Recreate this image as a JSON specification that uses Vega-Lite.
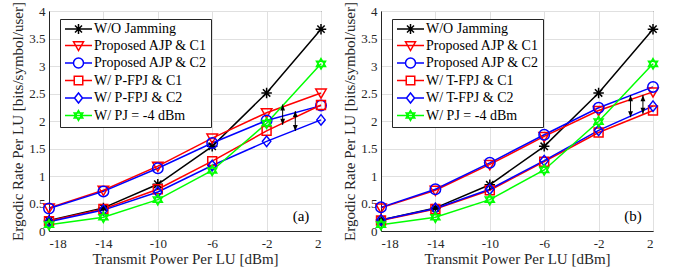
{
  "$schema": "https://vega.github.io/schema/vega-lite/v6.json",
  "background": "white",
  "padding": {"left": 10, "top": 1, "right": 5, "bottom": 0},
  "spacing": 12,
  "config": {
    "font": "Liberation Serif",
    "view": {"stroke": "#262626", "strokeWidth": 1},
    "axis": {
      "labelFont": "Liberation Serif", "labelFontSize": 13, "labelColor": "#262626",
      "titleFont": "Liberation Serif", "titleFontSize": 15, "titleFontWeight": "normal", "titleColor": "#262626",
      "domainColor": "#262626", "gridColor": "#e0e0e0", "ticks": false, "labelOverlap": false
    },
    "axisX": {"labelPadding": 6, "titlePadding": 1},
    "axisY": {"labelPadding": 4, "titlePadding": 3},
    "legend": {
      "orient": "none", "legendX": 11, "legendY": 8,
      "strokeColor": "#262626", "fillColor": "white", "padding": 3,
      "labelFont": "Liberation Serif", "labelFontSize": 14, "labelColor": "black",
      "symbolSize": 100, "symbolStrokeWidth": 1.5, "labelOffset": 17, "rowPadding": 1.5
    }
  },
  "datasets": {
    "a": [
      {"p": -18, "r": 0.19, "s": "W/O Jamming"}, {"p": -14, "r": 0.42, "s": "W/O Jamming"}, {"p": -10, "r": 0.85, "s": "W/O Jamming"}, {"p": -6, "r": 1.54, "s": "W/O Jamming"}, {"p": -2, "r": 2.51, "s": "W/O Jamming"}, {"p": 2, "r": 3.67, "s": "W/O Jamming"},
      {"p": -18, "r": 0.42, "s": "Proposed AJP & C1"}, {"p": -14, "r": 0.74, "s": "Proposed AJP & C1"}, {"p": -10, "r": 1.18, "s": "Proposed AJP & C1"}, {"p": -6, "r": 1.69, "s": "Proposed AJP & C1"}, {"p": -2, "r": 2.15, "s": "Proposed AJP & C1"}, {"p": 2, "r": 2.51, "s": "Proposed AJP & C1"},
      {"p": -18, "r": 0.41, "s": "Proposed AJP & C2"}, {"p": -14, "r": 0.72, "s": "Proposed AJP & C2"}, {"p": -10, "r": 1.14, "s": "Proposed AJP & C2"}, {"p": -6, "r": 1.6, "s": "Proposed AJP & C2"}, {"p": -2, "r": 2.01, "s": "Proposed AJP & C2"}, {"p": 2, "r": 2.28, "s": "Proposed AJP & C2"},
      {"p": -18, "r": 0.18, "s": "W/ P-FPJ & C1"}, {"p": -14, "r": 0.4, "s": "W/ P-FPJ & C1"}, {"p": -10, "r": 0.76, "s": "W/ P-FPJ & C1"}, {"p": -6, "r": 1.27, "s": "W/ P-FPJ & C1"}, {"p": -2, "r": 1.82, "s": "W/ P-FPJ & C1"}, {"p": 2, "r": 2.29, "s": "W/ P-FPJ & C1"},
      {"p": -18, "r": 0.17, "s": "W/ P-FPJ & C2"}, {"p": -14, "r": 0.38, "s": "W/ P-FPJ & C2"}, {"p": -10, "r": 0.71, "s": "W/ P-FPJ & C2"}, {"p": -6, "r": 1.19, "s": "W/ P-FPJ & C2"}, {"p": -2, "r": 1.63, "s": "W/ P-FPJ & C2"}, {"p": 2, "r": 2.02, "s": "W/ P-FPJ & C2"},
      {"p": -18, "r": 0.115, "s": "W/  PJ = -4 dBm"}, {"p": -14, "r": 0.25, "s": "W/  PJ = -4 dBm"}, {"p": -10, "r": 0.57, "s": "W/  PJ = -4 dBm"}, {"p": -6, "r": 1.1, "s": "W/  PJ = -4 dBm"}, {"p": -2, "r": 1.96, "s": "W/  PJ = -4 dBm"}, {"p": 2, "r": 3.04, "s": "W/  PJ = -4 dBm"}
    ],
    "b": [
      {"p": -18, "r": 0.2, "s": "W/O Jamming"}, {"p": -14, "r": 0.42, "s": "W/O Jamming"}, {"p": -10, "r": 0.84, "s": "W/O Jamming"}, {"p": -6, "r": 1.54, "s": "W/O Jamming"}, {"p": -2, "r": 2.51, "s": "W/O Jamming"}, {"p": 2, "r": 3.67, "s": "W/O Jamming"},
      {"p": -18, "r": 0.42, "s": "Proposed AJP & C1"}, {"p": -14, "r": 0.74, "s": "Proposed AJP & C1"}, {"p": -10, "r": 1.21, "s": "Proposed AJP & C1"}, {"p": -6, "r": 1.72, "s": "Proposed AJP & C1"}, {"p": -2, "r": 2.19, "s": "Proposed AJP & C1"}, {"p": 2, "r": 2.53, "s": "Proposed AJP & C1"},
      {"p": -18, "r": 0.43, "s": "Proposed AJP & C2"}, {"p": -14, "r": 0.76, "s": "Proposed AJP & C2"}, {"p": -10, "r": 1.24, "s": "Proposed AJP & C2"}, {"p": -6, "r": 1.75, "s": "Proposed AJP & C2"}, {"p": -2, "r": 2.24, "s": "Proposed AJP & C2"}, {"p": 2, "r": 2.62, "s": "Proposed AJP & C2"},
      {"p": -18, "r": 0.19, "s": "W/ T-FPJ & C1"}, {"p": -14, "r": 0.4, "s": "W/ T-FPJ & C1"}, {"p": -10, "r": 0.74, "s": "W/ T-FPJ & C1"}, {"p": -6, "r": 1.26, "s": "W/ T-FPJ & C1"}, {"p": -2, "r": 1.79, "s": "W/ T-FPJ & C1"}, {"p": 2, "r": 2.19, "s": "W/ T-FPJ & C1"},
      {"p": -18, "r": 0.2, "s": "W/ T-FPJ & C2"}, {"p": -14, "r": 0.41, "s": "W/ T-FPJ & C2"}, {"p": -10, "r": 0.76, "s": "W/ T-FPJ & C2"}, {"p": -6, "r": 1.28, "s": "W/ T-FPJ & C2"}, {"p": -2, "r": 1.83, "s": "W/ T-FPJ & C2"}, {"p": 2, "r": 2.27, "s": "W/ T-FPJ & C2"},
      {"p": -18, "r": 0.115, "s": "W/  PJ = -4 dBm"}, {"p": -14, "r": 0.25, "s": "W/  PJ = -4 dBm"}, {"p": -10, "r": 0.57, "s": "W/  PJ = -4 dBm"}, {"p": -6, "r": 1.11, "s": "W/  PJ = -4 dBm"}, {"p": -2, "r": 1.99, "s": "W/  PJ = -4 dBm"}, {"p": 2, "r": 3.04, "s": "W/  PJ = -4 dBm"}
    ],
    "arrA": [{"x": -0.82, "y1": 2.3, "y2": 1.93}, {"x": 0.11, "y1": 2.18, "y2": 1.82}],
    "arrB": [{"x": 0.35, "y1": 2.47, "y2": 2.07}, {"x": 1.26, "y1": 2.47, "y2": 2.13}],
    "labA": [{"x": 0.53, "y": 0.27, "t": "(a)"}],
    "labB": [{"x": 0.53, "y": 0.27, "t": "(b)"}]
  },
  "hconcat": [
    {
      "width": 272, "height": 220,
      "layer": [
        {"data": {"name": "a"}, "mark": {"type": "line", "strokeWidth": 1.5},
         "encoding": {
           "x": {"field": "p", "type": "quantitative", "scale": {"domain": [-18, 2], "nice": false, "zero": false}, "axis": {"values": [-18, -14, -10, -6, -2, 2], "tickCount": 10, "labelExpr": "'' + datum.value", "title": "Transmit Power Per LU [dBm]"}},
           "y": {"field": "r", "type": "quantitative", "scale": {"domain": [0, 4], "nice": false}, "axis": {"values": [0, 0.5, 1, 1.5, 2, 2.5, 3, 3.5, 4], "tickCount": 12, "labelExpr": "'' + datum.value", "title": "Ergodic Rate Per LU [bits/symbol/user]"}},
           "color": {"field": "s", "type": "nominal", "scale": {"domain": ["W/O Jamming", "Proposed AJP & C1", "Proposed AJP & C2", "W/ P-FPJ & C1", "W/ P-FPJ & C2", "W/  PJ = -4 dBm"], "range": ["#000000", "#ff0000", "#0000ff", "#ff0000", "#0000ff", "#00ff00"]}, "legend": null}
         }},
        {"data": {"name": "a"}, "mark": {"type": "point", "filled": false, "strokeWidth": 1.5, "size": 110, "opacity": 1},
         "encoding": {
           "x": {"field": "p", "type": "quantitative"},
           "y": {"field": "r", "type": "quantitative"},
           "color": {"field": "s", "type": "nominal", "scale": {"domain": ["W/O Jamming", "Proposed AJP & C1", "Proposed AJP & C2", "W/ P-FPJ & C1", "W/ P-FPJ & C2", "W/  PJ = -4 dBm"], "range": ["#000000", "#ff0000", "#0000ff", "#ff0000", "#0000ff", "#00ff00"]}, "legend": null},
           "shape": {"field": "s", "type": "nominal", "scale": {"domain": ["W/O Jamming", "Proposed AJP & C1", "Proposed AJP & C2", "W/ P-FPJ & C1", "W/ P-FPJ & C2", "W/  PJ = -4 dBm"], "range": ["M0,-1V1M-1,0H1M-0.7,-0.7L0.7,0.7M-0.7,0.7L0.7,-0.7", "M-1,-0.75L1,-0.75L0,1Z", "M1,0A1,1,0,1,1,-1,0A1,1,0,1,1,1,0Z", "M-0.85,-0.85H0.85V0.85H-0.85Z", "M0,-1L0.8,0L0,1L-0.8,0Z", "M0,-1L0.866,0.5L-0.866,0.5ZM0,1L0.866,-0.5L-0.866,-0.5Z"]}, "legend": null}
         }},
        {"data": {"name": "a"}, "transform": [{"filter": "false"}], "mark": {"type": "point", "filled": false, "strokeWidth": 1.5, "size": 100, "opacity": 1},
         "encoding": {
           "x": {"field": "p", "type": "quantitative"},
           "y": {"field": "r", "type": "quantitative"},
           "color": {"field": "s", "type": "nominal", "scale": {"domain": ["W/O Jamming", "Proposed AJP & C1", "Proposed AJP & C2", "W/ P-FPJ & C1", "W/ P-FPJ & C2", "W/  PJ = -4 dBm"], "range": ["#000000", "#ff0000", "#0000ff", "#ff0000", "#0000ff", "#00ff00"]}, "legend": {"title": null}},
           "shape": {"field": "s", "type": "nominal", "scale": {"domain": ["W/O Jamming", "Proposed AJP & C1", "Proposed AJP & C2", "W/ P-FPJ & C1", "W/ P-FPJ & C2", "W/  PJ = -4 dBm"], "range": ["M-1,0H4.4M1.7,-1V1M0.7,0H2.7M1,-0.7L2.4,0.7M1,0.7L2.4,-0.7", "M-1,0H4.4M0.7,-0.75L2.7,-0.75L1.7,1Z", "M-1,0H0.7M2.7,0H4.4M2.7,0A1,1,0,1,1,0.7,0A1,1,0,1,1,2.7,0Z", "M-1,0H0.85M2.55,0H4.4M0.85,-0.85H2.55V0.85H0.85Z", "M-1,0H0.9M2.5,0H4.4M1.7,-1L2.5,0L1.7,1L0.9,0Z", "M-1,0H4.4M1.7,-1L2.566,0.5L0.834,0.5ZM1.7,1L2.566,-0.5L0.834,-0.5Z"]}, "legend": {"title": null}}
         }},
        {"data": {"name": "arrA"}, "mark": {"type": "rule", "strokeWidth": 1, "color": "black"},
         "encoding": {"x": {"field": "x", "type": "quantitative"}, "y": {"field": "y1", "type": "quantitative"}, "y2": {"field": "y2"}}},
        {"data": {"name": "arrA"}, "mark": {"type": "point", "filled": true, "color": "black", "opacity": 1, "shape": "M0,0L-0.4,1L0.4,1Z", "size": 144, "strokeWidth": 0},
         "encoding": {"x": {"field": "x", "type": "quantitative"}, "y": {"field": "y1", "type": "quantitative"}}},
        {"data": {"name": "arrA"}, "mark": {"type": "point", "filled": true, "color": "black", "opacity": 1, "shape": "M0,0L-0.4,-1L0.4,-1Z", "size": 144, "strokeWidth": 0},
         "encoding": {"x": {"field": "x", "type": "quantitative"}, "y": {"field": "y2", "type": "quantitative"}}},
        {"data": {"name": "labA"}, "mark": {"type": "text", "fontSize": 15, "font": "Liberation Serif", "color": "black"},
         "encoding": {"x": {"field": "x", "type": "quantitative"}, "y": {"field": "y", "type": "quantitative"}, "text": {"field": "t"}}}
      ],
      "resolve": {"scale": {"shape": "independent", "color": "independent"}}
    },
    {
      "width": 272, "height": 220,
      "layer": [
        {"data": {"name": "b"}, "mark": {"type": "line", "strokeWidth": 1.5},
         "encoding": {
           "x": {"field": "p", "type": "quantitative", "scale": {"domain": [-18, 2], "nice": false, "zero": false}, "axis": {"values": [-18, -14, -10, -6, -2, 2], "tickCount": 10, "labelExpr": "'' + datum.value", "title": "Transmit Power Per LU [dBm]"}},
           "y": {"field": "r", "type": "quantitative", "scale": {"domain": [0, 4], "nice": false}, "axis": {"values": [0, 0.5, 1, 1.5, 2, 2.5, 3, 3.5, 4], "tickCount": 12, "labelExpr": "'' + datum.value", "title": "Ergodic Rate Per LU [bits/symbol/user]"}},
           "color": {"field": "s", "type": "nominal", "scale": {"domain": ["W/O Jamming", "Proposed AJP & C1", "Proposed AJP & C2", "W/ T-FPJ & C1", "W/ T-FPJ & C2", "W/  PJ = -4 dBm"], "range": ["#000000", "#ff0000", "#0000ff", "#ff0000", "#0000ff", "#00ff00"]}, "legend": null}
         }},
        {"data": {"name": "b"}, "mark": {"type": "point", "filled": false, "strokeWidth": 1.5, "size": 110, "opacity": 1},
         "encoding": {
           "x": {"field": "p", "type": "quantitative"},
           "y": {"field": "r", "type": "quantitative"},
           "color": {"field": "s", "type": "nominal", "scale": {"domain": ["W/O Jamming", "Proposed AJP & C1", "Proposed AJP & C2", "W/ T-FPJ & C1", "W/ T-FPJ & C2", "W/  PJ = -4 dBm"], "range": ["#000000", "#ff0000", "#0000ff", "#ff0000", "#0000ff", "#00ff00"]}, "legend": null},
           "shape": {"field": "s", "type": "nominal", "scale": {"domain": ["W/O Jamming", "Proposed AJP & C1", "Proposed AJP & C2", "W/ T-FPJ & C1", "W/ T-FPJ & C2", "W/  PJ = -4 dBm"], "range": ["M0,-1V1M-1,0H1M-0.7,-0.7L0.7,0.7M-0.7,0.7L0.7,-0.7", "M-1,-0.75L1,-0.75L0,1Z", "M1,0A1,1,0,1,1,-1,0A1,1,0,1,1,1,0Z", "M-0.85,-0.85H0.85V0.85H-0.85Z", "M0,-1L0.8,0L0,1L-0.8,0Z", "M0,-1L0.866,0.5L-0.866,0.5ZM0,1L0.866,-0.5L-0.866,-0.5Z"]}, "legend": null}
         }},
        {"data": {"name": "b"}, "transform": [{"filter": "false"}], "mark": {"type": "point", "filled": false, "strokeWidth": 1.5, "size": 100, "opacity": 1},
         "encoding": {
           "x": {"field": "p", "type": "quantitative"},
           "y": {"field": "r", "type": "quantitative"},
           "color": {"field": "s", "type": "nominal", "scale": {"domain": ["W/O Jamming", "Proposed AJP & C1", "Proposed AJP & C2", "W/ T-FPJ & C1", "W/ T-FPJ & C2", "W/  PJ = -4 dBm"], "range": ["#000000", "#ff0000", "#0000ff", "#ff0000", "#0000ff", "#00ff00"]}, "legend": {"title": null}},
           "shape": {"field": "s", "type": "nominal", "scale": {"domain": ["W/O Jamming", "Proposed AJP & C1", "Proposed AJP & C2", "W/ T-FPJ & C1", "W/ T-FPJ & C2", "W/  PJ = -4 dBm"], "range": ["M-1,0H4.4M1.7,-1V1M0.7,0H2.7M1,-0.7L2.4,0.7M1,0.7L2.4,-0.7", "M-1,0H4.4M0.7,-0.75L2.7,-0.75L1.7,1Z", "M-1,0H0.7M2.7,0H4.4M2.7,0A1,1,0,1,1,0.7,0A1,1,0,1,1,2.7,0Z", "M-1,0H0.85M2.55,0H4.4M0.85,-0.85H2.55V0.85H0.85Z", "M-1,0H0.9M2.5,0H4.4M1.7,-1L2.5,0L1.7,1L0.9,0Z", "M-1,0H4.4M1.7,-1L2.566,0.5L0.834,0.5ZM1.7,1L2.566,-0.5L0.834,-0.5Z"]}, "legend": {"title": null}}
         }},
        {"data": {"name": "arrB"}, "mark": {"type": "rule", "strokeWidth": 1, "color": "black"},
         "encoding": {"x": {"field": "x", "type": "quantitative"}, "y": {"field": "y1", "type": "quantitative"}, "y2": {"field": "y2"}}},
        {"data": {"name": "arrB"}, "mark": {"type": "point", "filled": true, "color": "black", "opacity": 1, "shape": "M0,0L-0.4,1L0.4,1Z", "size": 144, "strokeWidth": 0},
         "encoding": {"x": {"field": "x", "type": "quantitative"}, "y": {"field": "y1", "type": "quantitative"}}},
        {"data": {"name": "arrB"}, "mark": {"type": "point", "filled": true, "color": "black", "opacity": 1, "shape": "M0,0L-0.4,-1L0.4,-1Z", "size": 144, "strokeWidth": 0},
         "encoding": {"x": {"field": "x", "type": "quantitative"}, "y": {"field": "y2", "type": "quantitative"}}},
        {"data": {"name": "labB"}, "mark": {"type": "text", "fontSize": 15, "font": "Liberation Serif", "color": "black"},
         "encoding": {"x": {"field": "x", "type": "quantitative"}, "y": {"field": "y", "type": "quantitative"}, "text": {"field": "t"}}}
      ],
      "resolve": {"scale": {"shape": "independent", "color": "independent"}}
    }
  ]
}
